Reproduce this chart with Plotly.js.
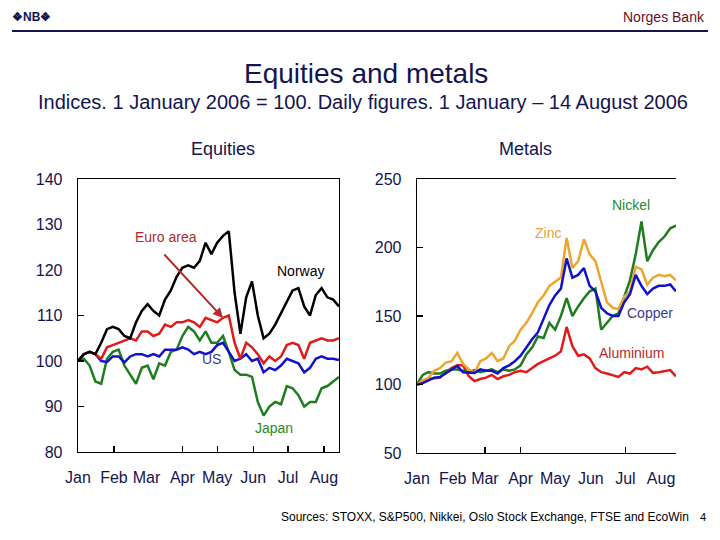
<!DOCTYPE html>
<html>
<head>
<meta charset="utf-8">
<script src="https://cdn.plot.ly/plotly-3.0.1.min.js"></script>
<style>html,body{margin:0;padding:0;background:#fff;}#chart{width:720px;height:540px;}</style>
</head>
<body>
<div id="chart"></div>
<script>
// ---------- DATA ----------
const dates = ['2006-01-01','2006-01-06','2006-01-11','2006-01-16','2006-01-21','2006-01-26','2006-01-31','2006-02-05','2006-02-10','2006-02-15','2006-02-20','2006-02-25','2006-03-02','2006-03-07','2006-03-12','2006-03-17','2006-03-22','2006-03-27','2006-04-01','2006-04-06','2006-04-11','2006-04-16','2006-04-21','2006-04-26','2006-05-01','2006-05-06','2006-05-11','2006-05-16','2006-05-21','2006-05-26','2006-05-31','2006-06-05','2006-06-10','2006-06-15','2006-06-20','2006-06-25','2006-06-30','2006-07-05','2006-07-10','2006-07-15','2006-07-20','2006-07-25','2006-07-30','2006-08-04','2006-08-09','2006-08-14'];

// Equities
const norway = [100,101.5,102,101.5,104,107,107.5,107,105.5,105,108.5,111,112.5,111,110,113.5,115.5,118.5,120.5,121,120.5,122,126,123.5,126,127.5,128.5,115,106,114,117.5,110,105,106,108,110.5,113,115.5,116,112,110,114.5,116,114,113.5,112];
const euroArea = [100,101.5,102,101.5,100.5,103,103.5,104,104.5,105,104.5,106.5,106.5,105.5,106,108,107.5,108.5,108.5,109,108.5,107.5,109.5,109,108.5,109.5,110,104,100.5,104,103,101.5,99.5,101,100,101,103.5,104,103.5,100.5,104,104.5,105,104.5,104.5,105];
const us = [100,101.5,102,101.5,100,99.8,101,101,99.7,101,101.5,101.5,101,101.5,101,102.5,102.5,102.5,103,102.5,101.5,102,101.5,102,103.5,104,102,100,100.5,101.5,100,100.5,97.5,98.5,98,99,100.5,100,99.5,97.5,98.5,100.5,101,100.5,100.5,100.2];
const japan = [100,100.5,99,95.5,95,100.5,102,102.5,99,97,95,98.5,99,96,99.5,99,102,102.5,105.5,107.5,106.5,104.5,106.5,104,104,105.5,102,98,97,97,96.5,91,88,90,91,90.5,94.5,94,92.5,90,91,91,94,94.5,95.5,96.5];

// Metals
const aluminium = [100,102,104,104.5,105,109,112,114,114,106,102.5,104,105,107,104,106,107,109,110,109,112,115,117,119,121,124,142,128,121,122,119,112,109,108,107,105.5,109,108,112,111,113,108.5,109,109.5,110.5,106];
const nickel = [100,107,109,108,108,110,111,111,110,109,110.5,109,110,111,109,111,110,111,114,122,127,135,134,145,140,150,163,150,157,163,168,170,140,145,150,152,164,176,195,219,190,198,204,208,214,216];
const zinc = [100,103,105,110,112,116,117,123,115,111,108.5,117,119,123,117,119,128,132,140,145,152,160,165,172,175,178,207,185,190,206,195,190,175,160,156,155,164,168,186,184,173,178,180,179,180,176];
const copper = [100,101,103,105,105.5,108,111,113.5,109,109,108.5,111,110,110,108,112,114,117,121,127,133,138,148,158,165,170,192,178,180,185,172,168,156,152,150,150,160,166,180,172,166,170,172,172,173,168];

const monthTicks = ['2006-01-01','2006-02-01','2006-03-01','2006-04-01','2006-05-01','2006-06-01','2006-07-01','2006-08-01'];
const monthLabels = ['Jan','Feb','Mar','Apr','May','Jun','Jul','Aug'];

// ---------- STYLE ----------
const FONT = 'Arial, "Liberation Sans", sans-serif';
const NAVY = '#141452';
const W = 720, H = 540;
const px = x => x / W;
const py = y => 1 - y / H;
const C = {black:'#000000', red:'#e01b1b', blue:'#1212c8', green:'#1f7d1f', orange:'#f0a430'};
const LW = 2.5;

const traces = [
  {x: dates, y: japan, xaxis:'x', yaxis:'y', line:{color:C.green, width:LW}},
  {x: dates, y: us, xaxis:'x', yaxis:'y', line:{color:C.blue, width:LW}},
  {x: dates, y: euroArea, xaxis:'x', yaxis:'y', line:{color:C.red, width:LW}},
  {x: dates, y: norway, xaxis:'x', yaxis:'y', line:{color:C.black, width:LW}},
  {x: dates, y: aluminium, xaxis:'x2', yaxis:'y2', line:{color:C.red, width:LW}},
  {x: dates, y: nickel, xaxis:'x2', yaxis:'y2', line:{color:C.green, width:LW}},
  {x: dates, y: zinc, xaxis:'x2', yaxis:'y2', line:{color:C.orange, width:LW}},
  {x: dates, y: copper, xaxis:'x2', yaxis:'y2', line:{color:C.blue, width:LW}}
].map(t => Object.assign({type:'scatter', mode:'lines', hoverinfo:'skip'}, t));

const tickFont = {family: FONT, size: 16, color: NAVY};
const xBase = {
  type:'date', range:['2006-01-01','2006-08-14'], tickmode:'array', tickvals: monthTicks, ticktext: monthLabels,
  ticks:'', showgrid:false, zeroline:false, showline:true, linecolor:'#000', linewidth:1.3,
  tickfont: tickFont, ticklabelstandoff: 10, fixedrange:true
};

const layout = {
  width: W, height: H, margin:{l:0,r:0,t:0,b:0}, showlegend:false,
  paper_bgcolor:'#fff', plot_bgcolor:'#fff',
  font:{family: FONT, color: NAVY},
  xaxis: Object.assign({}, xBase, {domain:[px(78), px(339)], anchor:'y', mirror:true,
    minor:{tickmode:'array', tickvals:['2006-02-01','2006-04-01','2006-05-01','2006-06-01','2006-07-01','2006-08-01'], ticks:'inside', ticklen:6, tickcolor:'#000', tickwidth:1.2, showgrid:false}}),
  yaxis: {domain:[py(452), py(179)], anchor:'x', range:[80,140], dtick:10, tick0:80,
    ticks:'', showgrid:false, zeroline:false, showline:true, linecolor:'#000', linewidth:1.3, mirror:true,
    minor:{tickmode:'array', tickvals:[90,100,110], ticks:'inside', ticklen:6, tickcolor:'#000', tickwidth:1.2, showgrid:false},
    tickfont: tickFont, ticklabelstandoff: 11, fixedrange:true},
  xaxis2: Object.assign({}, xBase, {domain:[px(417), px(676)], anchor:'y2', mirror:true,
    minor:{tickmode:'array', tickvals:['2006-03-01','2006-04-01','2006-07-01'], ticks:'inside', ticklen:6, tickcolor:'#000', tickwidth:1.2, showgrid:false}}),
  yaxis2: {domain:[py(453), py(179)], anchor:'x2', range:[50,250], dtick:50, tick0:50,
    ticks:'inside', ticklen:6, tickcolor:'#000', tickwidth:1.2,
    showgrid:false, zeroline:false, showline:true, linecolor:'#000', linewidth:1.3, mirror:false,
    tickfont: tickFont, ticklabelstandoff: 11, fixedrange:true},
  shapes: [
    {type:'line', xref:'paper', yref:'paper', x0:px(12), x1:px(708), y0:py(31), y1:py(31), line:{color:NAVY, width:2}}
  ],
  annotations: []
};

function txt(text, x, y, size, color, extra) {
  layout.annotations.push(Object.assign({text:text, x:px(x), y:py(y), xref:'paper', yref:'paper', showarrow:false,
    xanchor:'center', yanchor:'middle', font:{family:FONT, size:size, color:color}}, extra || {}));
}

// header
txt('<b>❖NB❖</b>', 31, 17, 12, NAVY);
txt('Norges Bank', 707, 17, 14, '#6b0f1f', {xanchor:'right'});
// titles
txt('Equities and metals', 366, 73, 28, NAVY);
txt('Indices. 1 January 2006 = 100. Daily figures. 1 January – 14 August 2006', 363, 102, 20, NAVY);
txt('Equities', 223, 149, 18, NAVY);
txt('Metals', 525, 149, 18, NAVY);
// series labels
txt('Euro area', 166, 237, 14, '#b32a2a');
txt('Norway', 300, 271, 14, '#000000');
txt('US', 211, 359, 14, '#3a3a8c');
txt('Japan', 274, 428, 14, '#2a8a2a');
txt('Nickel', 631, 205, 14, '#2a8a2a');
txt('Zinc', 548, 233, 14, '#e8a040');
txt('Copper', 650, 313, 14, '#3a3a8c');
txt('Aluminium', 631, 353, 14, '#b32a2a');
// arrow for Euro area
layout.annotations.push({text:'', x:px(223), y:py(318), xref:'paper', yref:'paper', showarrow:true,
  ax:-60, ay:-65, arrowhead:2, arrowsize:1, arrowwidth:2, arrowcolor:'#b32a2a'});
// footer
txt('Sources: STOXX, S&P500, Nikkei, Oslo Stock Exchange, FTSE and EcoWin', 279, 517, 12, '#000000', {xanchor:'left'});
txt('4', 703, 517, 11, '#000000');

Plotly.newPlot('chart', traces, layout, {staticPlot:true, displayModeBar:false});
</script>
</body>
</html>
